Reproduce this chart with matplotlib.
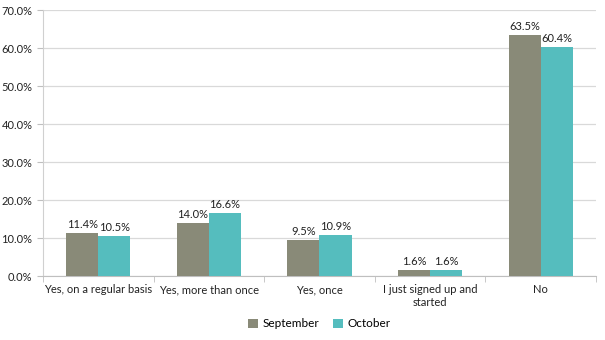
import matplotlib.pyplot as plt
import numpy as np
from matplotlib.ticker import FuncFormatter, FixedLocator

plt.rcParams["font.family"] = ["Lato", "DejaVu Sans"]

categorie = ["Yes, on a regular basis", "Yes, more than once", "Yes, once",
             "I just signed up and\nstarted", "No"]
settembre = [11.4, 14.0, 9.5, 1.6, 63.5]
ottobre = [10.5, 16.6, 10.9, 1.6, 60.4]
serie = ["September", "October"]

GRIGIO = "#898a78"
CIANO = "#55bdbe"

fig = plt.figure(figsize=(6.05, 3.4), dpi=100)
ax = fig.add_axes([0.071, 0.188, 0.914, 0.782])

x = np.arange(len(categorie))
w = 0.29
b1 = ax.bar(x - w / 2, settembre, w, color=GRIGIO, label=serie[0], zorder=3)
b2 = ax.bar(x + w / 2, ottobre, w, color=CIANO, label=serie[1], zorder=3)

for barre, valori in ((b1, settembre), (b2, ottobre)):
    for r, v in zip(barre, valori):
        ax.text(r.get_x() + r.get_width() / 2, v + 0.8, f"{v:.1f}%",
                ha="center", va="bottom", fontsize=8, color="#222222")

ax.set_xlim(-0.5, len(categorie) - 0.5)
ax.set_ylim(0, 70)
ax.set_yticks(np.arange(0, 71, 10))
ax.yaxis.set_major_formatter(FuncFormatter(lambda v, _: f"{v:.1f}%"))
ax.yaxis.grid(True, color="#d9d9d9", lw=0.9, zorder=0)

# etichette al centro, tacche ai confini delle categorie
ax.set_xticks(x, categorie)
ax.xaxis.set_minor_locator(FixedLocator(np.arange(-0.5, len(categorie), 1)))
ax.tick_params(axis="x", which="major", length=0, pad=6, labelsize=8, colors="#222222")
ax.tick_params(axis="x", which="minor", length=4, color="#bfbfbf")
ax.tick_params(axis="y", length=4, color="#bfbfbf", labelsize=8, labelcolor="#222222")

for s in ("top", "right"):
    ax.spines[s].set_visible(False)
ax.spines["left"].set_color("#d0d0d0")
ax.spines["bottom"].set_color("#bfbfbf")

ax.legend(loc="center", bbox_to_anchor=(0.5, -0.18), ncol=2, frameon=False,
          fontsize=8.5, handlelength=0.8, handleheight=0.8, columnspacing=1.2,
          handletextpad=0.4)

fig.savefig("out.png", dpi=100)
